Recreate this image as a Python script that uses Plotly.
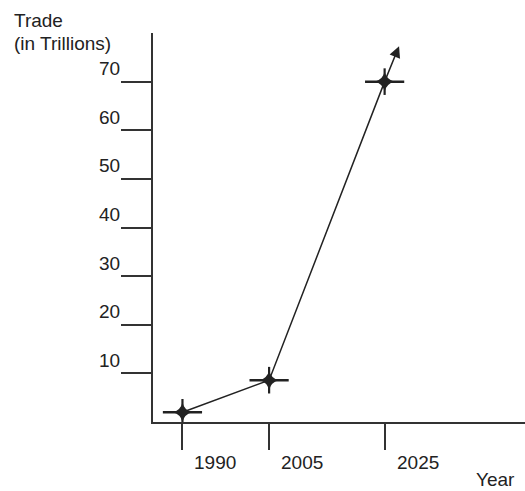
import plotly.graph_objects as go

years = [1990, 2005, 2025]
trade = [2, 8.6, 70]
arrow_tip = (2027.5, 77.3)
y_ticks = [10, 20, 30, 40, 50, 60, 70]
x_ticks = [1990, 2005, 2025]

INK = "#222222"
FONT = dict(family="Liberation Sans, Arial, sans-serif", size=19, color=INK)

fig = go.Figure()
fig.add_trace(go.Scatter(x=years, y=trade, mode="lines",
                         line=dict(color=INK, width=1.5), hoverinfo="skip"))
fig.add_trace(go.Scatter(x=years, y=trade, mode="markers",
                         marker=dict(symbol="line-ew", size=28,
                                     line=dict(color=INK, width=2.5)),
                         hoverinfo="skip"))
fig.add_trace(go.Scatter(x=years, y=trade, mode="markers",
                         marker=dict(symbol="line-ns", size=19,
                                     line=dict(color=INK, width=2.2)),
                         hoverinfo="skip"))
fig.add_trace(go.Scatter(x=years, y=trade, mode="markers",
                         marker=dict(symbol="star-diamond", size=14, color=INK,
                                     line=dict(width=0)),
                         hoverinfo="skip"))

fig.add_annotation(x=arrow_tip[0], y=arrow_tip[1], ax=years[-1], ay=trade[-1],
                   xref="x", yref="y", axref="x", ayref="y", text="",
                   showarrow=True, arrowhead=2, arrowsize=1.5, arrowwidth=1.5,
                   arrowcolor=INK)

for v in y_ticks:
    fig.add_annotation(x=0, y=v, xref="paper", yref="y", text=str(v),
                       showarrow=False, xanchor="right", yanchor="middle",
                       xshift=-31, yshift=13, font=FONT)
for yr in x_ticks:
    fig.add_annotation(x=yr, y=0, xref="x", yref="paper", text=str(yr),
                       showarrow=False, xanchor="left", yanchor="middle",
                       xshift=10, yshift=-40, font=FONT)

fig.add_annotation(x=0, y=1, xref="paper", yref="paper", text="Trade",
                   showarrow=False, xanchor="left", yanchor="middle",
                   xshift=-141, yshift=13, font=FONT)
fig.add_annotation(x=0, y=1, xref="paper", yref="paper", text="(in Trillions)",
                   showarrow=False, xanchor="left", yanchor="middle",
                   xshift=-141, yshift=-10, font=FONT)
fig.add_annotation(x=1, y=0, xref="paper", yref="paper", text="Year",
                   showarrow=False, xanchor="right", yanchor="middle",
                   xshift=-8, yshift=-57, font=FONT)

fig.update_xaxes(range=[1984.9, 2049.3], showgrid=False, zeroline=False,
                 showline=True, linecolor="#333333", linewidth=1.5,
                 tickvals=x_ticks, ticks="outside", ticklen=26, tickwidth=1.5,
                 tickcolor="#333333", showticklabels=False)
fig.update_yaxes(range=[0, 80], showgrid=False, zeroline=False,
                 showline=True, linecolor="#333333", linewidth=1.5,
                 tickvals=y_ticks, ticks="outside", ticklen=30, tickwidth=1.5,
                 tickcolor="#333333", showticklabels=False)

fig.update_layout(width=525, height=491, margin=dict(l=153, r=0, t=33, b=69),
                  paper_bgcolor="white", plot_bgcolor="white", showlegend=False)

fig.write_html("out.html", config={"displayModeBar": False},
               post_script="document.body.style.margin='0';"
                           "document.body.style.overflow='hidden';")
